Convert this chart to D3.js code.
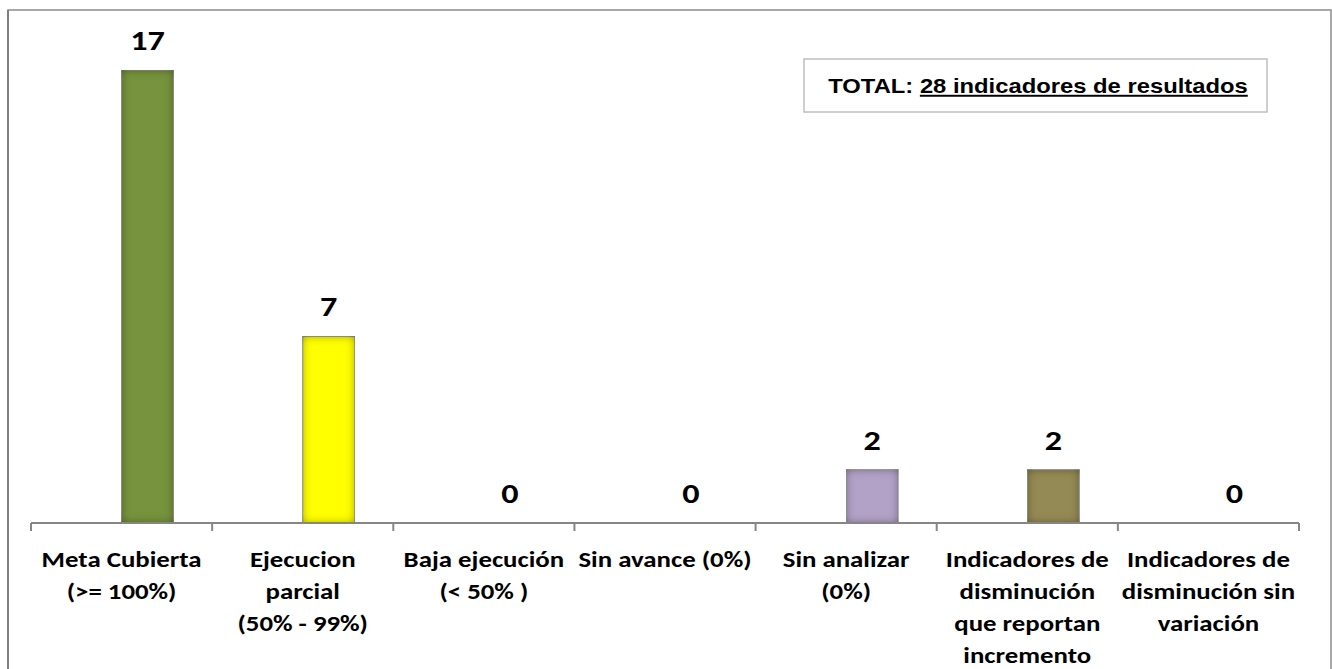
<!DOCTYPE html>
<html>
<head>
<meta charset="utf-8">
<script src="https://cdn.jsdelivr.net/npm/d3@7"></script>
<style>
  body { margin: 0; background: #fff; }
  svg text { font-family: Carlito, Calibri, Lato, sans-serif; font-weight: bold; }
</style>
</head>
<body>
<svg id="chart" width="1332" height="669"></svg>
<script>
// Data
const categories = [
  "Meta Cubierta\n(>= 100%)",
  "Ejecucion\nparcial\n(50% - 99%)",
  "Baja ejecución\n(< 50% )",
  "Sin avance (0%)",
  "Sin analizar\n(0%)",
  "Indicadores de\ndisminución\nque reportan\nincremento",
  "Indicadores de\ndisminución sin\nvariación"
];
const values = [17, 7, 0, 0, 2, 2, 0];
const barColors = ["#77933c", "#ffff00", "#c0504d", "#4f81bd", "#b3a2c7", "#948a54", "#4bacc6"];
const totalLabel = "TOTAL:";
const totalText = "28 indicadores de resultados";

// the source picture is a bit stretched sideways
const stretch = 1.22;

const svg = d3.select("#chart");

// inner shadow for the bars
const defs = svg.append("defs");
const f = defs.append("filter").attr("id", "inner")
  .attr("x", 0).attr("y", 0).attr("width", 1).attr("height", 1);
f.append("feGaussianBlur").attr("in", "SourceAlpha").attr("stdDeviation", 5).attr("result", "blur");
f.append("feComposite").attr("in", "SourceAlpha").attr("in2", "blur")
  .attr("operator", "arithmetic").attr("k2", 1).attr("k3", -1).attr("result", "edge");
f.append("feFlood").attr("flood-color", "#000").attr("flood-opacity", 0.8);
f.append("feComposite").attr("in2", "edge").attr("operator", "in").attr("result", "shadow");
const merge = f.append("feMerge");
merge.append("feMergeNode").attr("in", "SourceGraphic");
merge.append("feMergeNode").attr("in", "shadow");

// outer frame
svg.append("path")
  .attr("d", "M8,680 V10 H1331 V680")
  .attr("fill", "none").attr("stroke", "#8c8c8c").attr("stroke-width", 1.5);
svg.append("line").attr("x1", 8).attr("x2", 8).attr("y1", 10).attr("y2", 669)
  .attr("stroke", "#7f7f7f").attr("stroke-width", 2);

const x = d3.scaleBand().domain(categories).range([31, 1299]).padding(0);
const y = d3.scaleLinear().domain([0, 17]).range([523, 70]);
const bw = x.bandwidth();
const barW = bw * 0.287;

// bars (first series sits right of the category centre)
svg.append("g").selectAll("rect")
  .data(values)
  .join("rect")
  .attr("x", (d, i) => x(categories[i]) + bw / 2)
  .attr("y", (d) => y(d))
  .attr("width", barW)
  .attr("height", (d) => y(0) - y(d))
  .attr("fill", (d, i) => barColors[i])
  .attr("stroke", "#a6a6a6")
  .attr("stroke-width", 1)
  .attr("filter", "url(#inner)");

// value labels
svg.append("g").selectAll("text")
  .data(values)
  .join("text")
  .attr("transform", (d, i) =>
    `translate(${x(categories[i]) + bw / 2 + barW / 2},${y(d) - 20}) scale(${stretch},1)`)
  .attr("text-anchor", "middle")
  .attr("font-size", 28)
  .attr("fill", "#000")
  .text((d) => d);

// axis
const axis = svg.append("g").attr("transform", "translate(0,523)");
axis.append("line").attr("x1", 31).attr("x2", 1299)
  .attr("stroke", "#868686").attr("stroke-width", 2);
const ticks = categories.map((c) => x(c)).concat([1299]);
axis.selectAll("line.tick")
  .data(ticks)
  .join("line")
  .attr("class", "tick")
  .attr("x1", (d) => d).attr("x2", (d) => d)
  .attr("y1", 0).attr("y2", 8)
  .attr("stroke", "#868686").attr("stroke-width", 2);

const lab = axis.selectAll("text.cat")
  .data(categories)
  .join("text")
  .attr("class", "cat")
  .attr("transform", (c) => `translate(${x(c) + bw / 2},0) scale(${stretch},1)`)
  .attr("text-anchor", "middle")
  .attr("font-size", 22)
  .attr("fill", "#000");
lab.each(function (c) {
  const t = d3.select(this);
  c.split("\n").forEach((line, j) => {
    t.append("tspan")
      .attr("x", 0)
      .attr("y", 44 + j * 32)
      .text(line);
  });
});

// total box
const box = svg.append("g");
box.append("rect").attr("x", 804).attr("y", 59).attr("width", 463).attr("height", 53)
  .attr("fill", "#fff").attr("stroke", "#bfbfbf").attr("stroke-width", 1.5);
const tt = box.append("text")
  .attr("transform", `translate(1038,93) scale(${stretch},1)`)
  .attr("text-anchor", "middle")
  .style("font-family", "'Liberation Sans', Arial, sans-serif")
  .attr("font-size", 19.5)
  .attr("fill", "#000");
tt.append("tspan").text(totalLabel + " ");
tt.append("tspan").attr("text-decoration", "underline").text(totalText);
</script>
</body>
</html>
